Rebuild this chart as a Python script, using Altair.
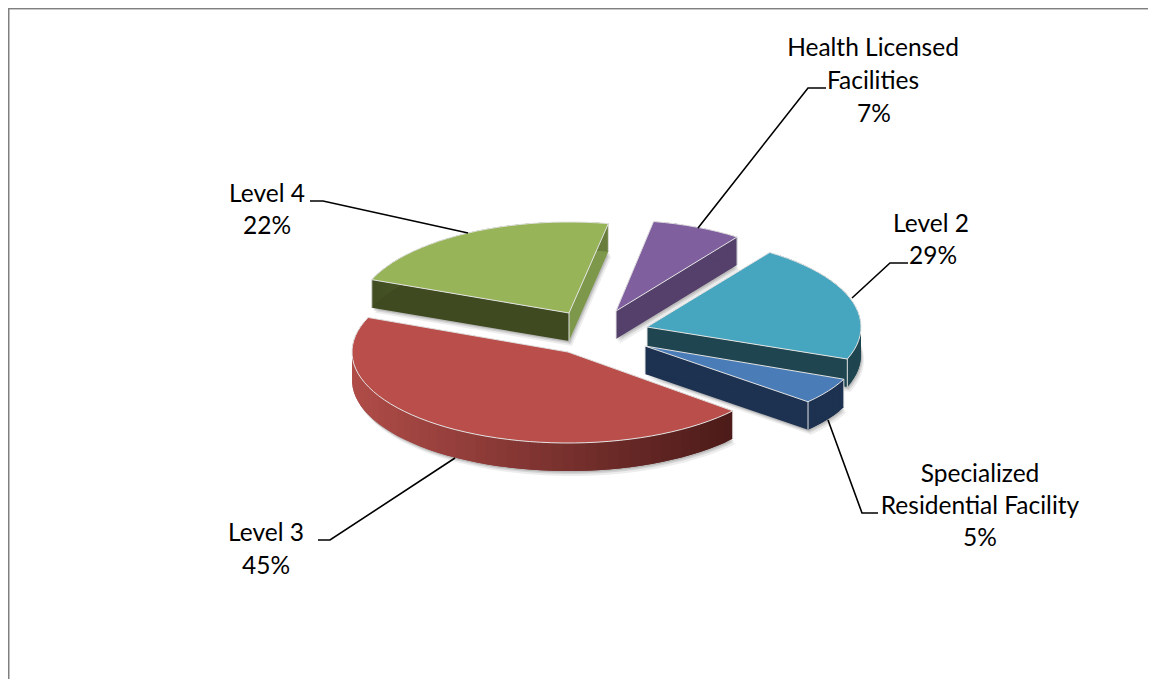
import math
import altair as alt

# Drawn slice sizes (the reference's printed labels do not all match its geometry)
categories = ["Health Licensed Facilities", "Level 4", "Level 2", "Specialized Residential Facility", "Level 3"]
shares = [7, 22, 21, 5, 45]
start_angles = [10.4, 291.5, 35.0, 113.0, 130.3]
apex_x = [616, 569, 647, 645, 568]
apex_y = [311, 313, 327, 346, 352]
radius_x = [208, 212, 214, 216, 216]
radius_y = [91, 91, 91, 85, 91]
top_colors = ["#7f5f9e", "#97b558", "#46a6bf", "#4a7db8", "#b94e4a"]
wall_left = ["#54406a", "#3f4a20", "#1f4650", "#1d3150", "#b04c48"]
wall_right = ["#54406a", "#7d984a", "#1f4650", "#1d3150", "#4c1b19"]

label_text = ["Health Licensed", "Facilities", "7%", "Level 2", "29%", "Specialized",
              "Residential Facility", "5%", "Level 3", "45%", "Level 4", "22%"]
label_x = [873, 873, 874, 931, 933, 980, 980, 980, 266, 266, 267, 267]
label_y = [48.5, 81.5, 114.5, 224.5, 256.5, 474.5, 506.5, 538.5, 533.5, 566.5, 194.5, 226.5]

leaders = [
    [(310, 201), (323, 201), (468, 233)],
    [(318, 540), (330, 540), (455, 458)],
    [(826, 88), (808, 88), (698, 228)],
    [(908, 263), (890, 263), (852, 298)],
    [(878, 513), (862, 513), (828, 420)],
]

DEPTH = 28
EDGE = "#e4e4e4"


def mix(c1, c2, t):
    t = max(0, min(1, t))
    a = [int(c1[i:i + 2], 16) for i in (1, 3, 5)]
    b = [int(c2[i:i + 2], 16) for i in (1, 3, 5)]
    return "#%02x%02x%02x" % tuple(round(p + (q - p) * t) for p, q in zip(a, b))


def feat(kind, coords, fill="transparent", stroke="transparent", sw=0.0, op=1.0):
    return {"type": "Feature",
            "geometry": {"type": kind, "coordinates": coords},
            "properties": {"fill": fill, "stroke": stroke, "sw": sw, "op": op}}


def poly(points, **kw):
    pts = [list(p) for p in points]
    return feat("Polygon", [pts + [pts[0]]], **kw)


def line(points, **kw):
    return feat("LineString", [list(p) for p in points], **kw)


def rim(i, a):
    r = math.radians(a)
    return (apex_x[i] + radius_x[i] * math.sin(r), apex_y[i] - radius_y[i] * math.cos(r))


features = []
features.append(line([(8, 9.5), (1156, 9.5)], stroke="#c8c8c8", sw=1))
features.append(line([(8, 8.5), (1156, 8.5)], stroke="#808080", sw=1))
features.append(line([(8.75, 8), (8.75, 687)], stroke="#808080", sw=1.5))

for i in range(len(shares)):
    cx, cy = apex_x[i], apex_y[i]
    a0 = start_angles[i]
    span = shares[i] * 3.6
    n = max(4, int(span / 3))
    arc = [rim(i, a0 + span * k / n) for k in range(n + 1)]
    outline = [(cx, cy)] + arc
    low = lambda p, d=DEPTH: (p[0], p[1] + d)

    # soft shadow
    for off, o in ((5, 0.07), (3, 0.10), (1.5, 0.12)):
        sil = [(x + off * 0.6, y + DEPTH + off) for x, y in outline]
        features.append(poly(sil, fill="#000000", op=o))

    # radial walls
    features.append(poly([(cx, cy), arc[-1], low(arc[-1]), low((cx, cy))], fill=wall_right[i]))
    features.append(poly([(cx, cy), arc[0], low(arc[0]), low((cx, cy))], fill=wall_left[i]))
    # outer wall, shaded from left to right; each piece reaches under the next one
    for k in range(n):
        p, q = arc[k], arc[min(k + 2, n)]
        mid = arc[k + 1]
        t = ((arc[k][0] + mid[0]) / 2 - (cx - radius_x[i])) / (2 * radius_x[i] * 0.88)
        c = mix(wall_left[i], wall_right[i], t)
        features.append(poly([p, mid, q, low(q), low(mid), low(p)], fill=c))
    # light corners
    for p in ((cx, cy), arc[0], arc[-1]):
        features.append(line([p, low(p)], stroke=EDGE, sw=1))
    # top face
    features.append(poly(outline, fill=top_colors[i], stroke=EDGE, sw=1))

for pts in leaders:
    features.append(line(pts, stroke="#000000", sw=1.6))

projection = alt.Projection(type="identity", scale=1, translate=[-8, -8])

shapes = alt.Chart(alt.Data(values=features)).mark_geoshape().encode(
    fill=alt.Fill("properties.fill:N", scale=None),
    stroke=alt.Stroke("properties.stroke:N", scale=None),
    strokeWidth=alt.StrokeWidth("properties.sw:Q", scale=None),
    opacity=alt.Opacity("properties.op:Q", scale=None),
)

labels = alt.Chart(alt.Data(values=[
    {"t": t, "lon": x, "lat": y} for t, x, y in zip(label_text, label_x, label_y)
])).mark_text(font="Lato", fontSize=24.5, color="#000000", align="center", baseline="middle").encode(
    longitude="lon:Q", latitude="lat:Q", text="t:N"
)

chart = alt.layer(shapes, labels).properties(
    width=1140, height=671, projection=projection, padding=0,
    autosize=alt.AutoSizeParams(type="none"), background="#ffffff",
).configure_view(stroke=None)

chart.save("out.html", embed_options={"renderer": "svg", "actions": False})
